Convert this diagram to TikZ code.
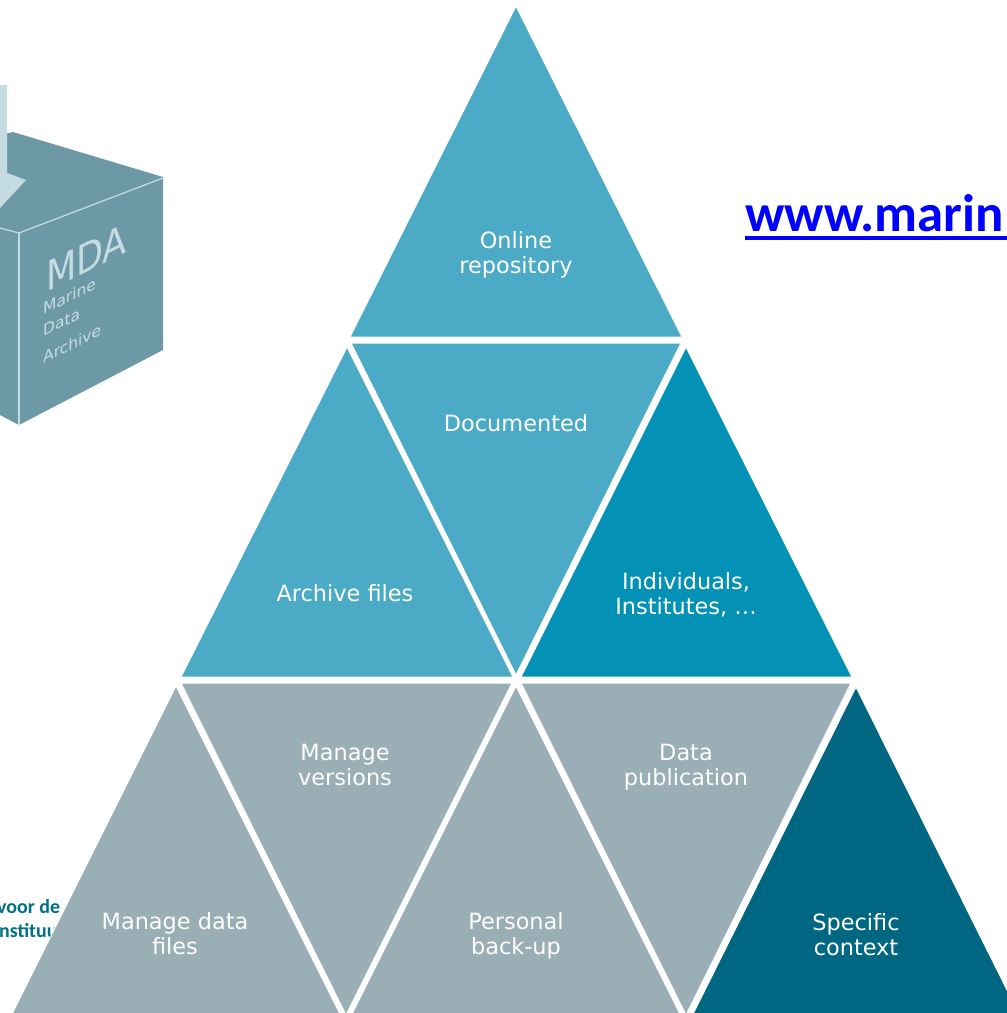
\documentclass[tikz,border=0pt]{standalone}
\usepackage{fontspec}
\setmainfont{DejaVu Sans}
\newfontfamily\carlito{Carlito}
\definecolor{archive}{HTML}{4BABC6}
\definecolor{shared}{HTML}{0391B5}
\definecolor{manage}{HTML}{9AAEB5}
\definecolor{context}{HTML}{006783}
\definecolor{mdabox}{HTML}{6D99A6}
\definecolor{mdalight}{HTML}{C5DDE2}
\definecolor{logoteal}{HTML}{00708A}
\begin{document}
\begin{tikzpicture}[x=1bp, y=-1bp,
	label/.style={text=white, font=\fontsize{22.5}{25}\selectfont, align=center, inner sep=0pt},
	boxtext/.style={text=mdalight, inner sep=0pt, anchor=base west, yslant=0.5, transform shape},
	logo/.style={text=logoteal, font=\carlito\bfseries\fontsize{20}{20}\selectfont, inner sep=0pt, anchor=base west},
	tri/.style={draw=white, line width=1pt, line join=round}
	]
	\useasboundingbox (0,0) rectangle (1007,1013);
	\clip (0,0) rectangle (1007,1013);

	% box on the left
	\fill[mdabox] (0,135) -- (13,132) -- (163,177) -- (163,350) -- (19,425) -- (0,415) -- cycle;
	\fill[mdalight] (0,85) -- (7,85) -- (7,173) -- (26,180) -- (0,208) -- cycle;
	\draw[mdalight, line width=1.2pt] (0,228) -- (19,233) -- (163,178);
	\draw[mdalight, line width=1.2pt] (19,233) -- (19,425);
	\node[boxtext, xscale=0.86, font=\fontsize{41}{41}\selectfont] (mda) at (46,293) {MDA};
	\node[boxtext, font=\fontsize{15.5}{16}\selectfont] (marine) at (43,315) {Marine};
	\node[boxtext, font=\fontsize{15.5}{16}\selectfont] (data) at (43,337) {Data};
	\node[boxtext, font=\fontsize{15.5}{16}\selectfont] (arch) at (43,364) {Archive};

	% logo text, the triangle covers the rest
	\node[logo] (logo1) at (-3,913) {voor de};
	\node[logo] (logo2) at (-6,937) {instituut};

	% top row
	\fill[tri, fill=archive] (516,6) -- (350,337) -- (682,337) -- cycle;
	% middle row
	\fill[tri, fill=archive] (351,343) -- (681,343) -- (516,675) -- cycle;
	\fill[tri, fill=archive] (347,347) -- (181,677) -- (513,677) -- cycle;
	\fill[tri, fill=shared] (686,347) -- (521,677) -- (852,677) -- cycle;
	% bottom row
	\fill[tri, fill=manage] (181,683) -- (512,683) -- (346,1015) -- cycle;
	\fill[tri, fill=manage] (521,683) -- (851,683) -- (686,1015) -- cycle;
	\fill[tri, fill=manage] (176,686) -- (11,1016) -- (341,1016) -- cycle;
	\fill[tri, fill=manage] (516,686) -- (351,1016) -- (681,1016) -- cycle;
	\fill[tri, fill=context] (856,687) -- (692,1016) -- (1020,1016) -- cycle;

	\node[label] (online) at (516,255) {Online\\repository};
	\node[label] (documented) at (516,423) {Documented};
	\node[label] (archivefiles) at (345,593) {Archive files};
	\node[label] (individuals) at (686,595) {Individuals,\\Institutes, \dots};
	\node[label] (versions) at (345,765) {Manage\\versions};
	\node[label] (publication) at (686,767) {Data\\publication};
	\node[label] (datafiles) at (175,934) {Manage data\\files};
	\node[label] (backup) at (516,936) {Personal\\back-up};
	\node[label] (specific) at (856,935) {Specific\\context};

	\node[text=blue, font=\carlito\bfseries\fontsize{53}{53}\selectfont, inner sep=0pt, anchor=base west] (url) at (745,231) {www.marin};
	\draw[blue, line width=3.5bp] ([yshift=-7bp]url.base west) -- ++(265,0);
\end{tikzpicture}
\end{document}
